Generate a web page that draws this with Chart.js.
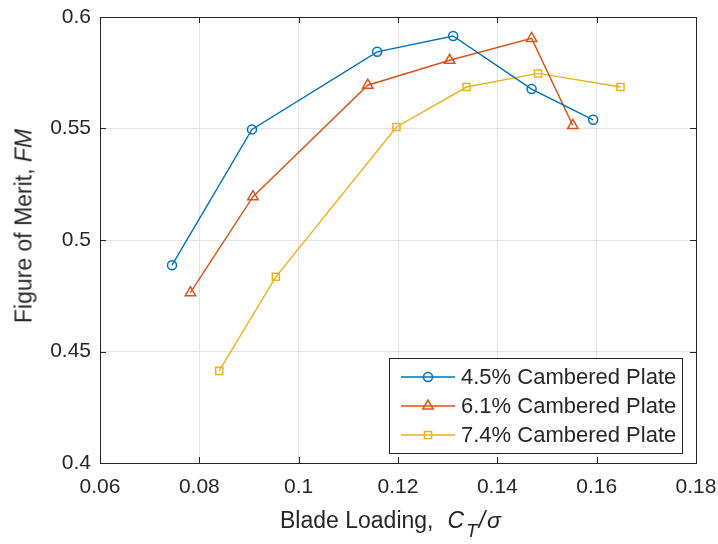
<!DOCTYPE html>
<html><head><meta charset="utf-8">
<script src="https://cdn.jsdelivr.net/npm/chart.js@4/dist/chart.umd.min.js"></script>
<style>
html,body{margin:0;padding:0;background:#fff;}
#wrap{position:relative;width:718px;height:544px;overflow:hidden;}
canvas{display:block;}
.lab{position:absolute;font-family:"Liberation Sans",Arial,Helvetica,sans-serif;font-size:23px;line-height:23px;color:#262626;white-space:nowrap;}
#xlab{left:280px;top:509px;}
#xlab .m{margin-left:14px;}
#xlab sub{font-size:19px;vertical-align:-9px;line-height:0;margin-left:2px;margin-right:1px;}
#ylab{left:24px;top:226px;transform:translate(-50%,-50%) rotate(-90deg);}
</style>
</head><body>
<div id="wrap">
<canvas id="c" width="718" height="544"></canvas>
<div id="xlab" class="lab">Blade Loading,<span class="m"><i>C</i></span><sub><i>T</i></sub><i>/</i><i style="margin-left:2px">σ</i></div>
<div id="ylab" class="lab">Figure of Merit, <i>FM</i></div>
</div>
<script>
const seriesNames = ['4.5% Cambered Plate', '6.1% Cambered Plate', '7.4% Cambered Plate'];
const ct45 = [0.0745, 0.0906, 0.1158, 0.1311, 0.1469, 0.1593];
const fm45 = [0.4887, 0.5496, 0.5844, 0.5915, 0.5677, 0.5539];
const ct61 = [0.0782, 0.0908, 0.1139, 0.1304, 0.1469, 0.1552];
const fm61 = [0.4764, 0.5194, 0.5694, 0.5806, 0.5904, 0.5514];
const ct74 = [0.0840, 0.0954, 0.1197, 0.1338, 0.1482, 0.1648];
const fm74 = [0.4413, 0.4835, 0.5507, 0.5686, 0.5747, 0.5686];
const xTicks = [0.06, 0.08, 0.10, 0.12, 0.14, 0.16, 0.18];
const xTickLabels = ['0.06', '0.08', '0.1', '0.12', '0.14', '0.16', '0.18'];
const yTicks = [0.40, 0.45, 0.50, 0.55, 0.60];
const yTickLabels = ['0.4', '0.45', '0.5', '0.55', '0.6'];

const FONT = '"Liberation Sans", Arial, Helvetica, sans-serif';
const colors = ['#0072BD', '#D95319', '#EDB120'];
const styles = ['circle', 'triangle', 'rect'];
const radii = [4.5, 6, 5];

function pts(xs, ys) { return xs.map((x, i) => ({x: x, y: ys[i]})); }
const raw = [[ct45, fm45], [ct61, fm61], [ct74, fm74]];
const datasets = raw.map((d, i) => ({
  label: seriesNames[i],
  data: pts(d[0], d[1]),
  showLine: true,
  borderColor: colors[i],
  backgroundColor: 'rgba(0,0,0,0)',
  borderWidth: 1.4,
  pointStyle: styles[i],
  pointRadius: radii[i],
  pointBorderWidth: 1.5,
  pointBorderColor: colors[i],
  pointBackgroundColor: 'rgba(0,0,0,0)',
  tension: 0
}));

const boxPlugin = {
  id: 'boxPlugin',
  afterDraw(chart) {
    const ctx = chart.ctx;
    const a = chart.chartArea;
    const xs = chart.scales.x, ys = chart.scales.y;
    ctx.save();
    ctx.strokeStyle = '#262626';
    ctx.lineWidth = 1;
    ctx.beginPath();
    ctx.rect(Math.round(a.left) + 0.5, Math.round(a.top) + 0.5, Math.round(a.right - a.left), Math.round(a.bottom - a.top));
    ctx.stroke();
    const tl = 6;
    ctx.beginPath();
    xTicks.forEach(v => {
      const px = Math.round(xs.getPixelForValue(v)) + 0.5;
      ctx.moveTo(px, a.bottom); ctx.lineTo(px, a.bottom - tl);
      ctx.moveTo(px, a.top); ctx.lineTo(px, a.top + tl);
    });
    yTicks.forEach(v => {
      const py = Math.round(ys.getPixelForValue(v)) + 0.5;
      ctx.moveTo(a.left, py); ctx.lineTo(a.left + tl, py);
      ctx.moveTo(a.right, py); ctx.lineTo(a.right - tl, py);
    });
    ctx.stroke();

    // legend
    const lw = 293, lh = 95;
    const lx = Math.round(a.right - 14 - lw), ly = Math.round(a.bottom - 10 - lh);
    ctx.fillStyle = '#ffffff';
    ctx.fillRect(lx, ly, lw, lh);
    ctx.strokeStyle = '#262626';
    ctx.lineWidth = 1;
    ctx.strokeRect(lx + 0.5, ly + 0.5, lw, lh);
    ctx.font = '22px ' + FONT;
    ctx.textBaseline = 'middle';
    ctx.textAlign = 'left';
    seriesNames.forEach((name, i) => {
      const cy = ly + 19 + i * 29;
      ctx.strokeStyle = colors[i];
      ctx.lineWidth = 1.5;
      ctx.beginPath();
      ctx.moveTo(lx + 12, cy); ctx.lineTo(lx + 66, cy);
      ctx.stroke();
      ctx.fillStyle = 'rgba(0,0,0,0)';
      Chart.helpers.drawPoint(ctx, {pointStyle: styles[i], radius: radii[i], rotation: 0, borderWidth: 1.5}, lx + 39, cy);
      ctx.fillStyle = '#262626';
      ctx.fillText(name, lx + 72, cy + 1);
    });
    ctx.restore();
  }
};

new Chart(document.getElementById('c'), {
  type: 'scatter',
  data: { datasets: datasets },
  options: {
    responsive: false,
    animation: false,
    devicePixelRatio: 1,
    layout: { padding: { left: 0, right: 22, top: 17, bottom: 0 } },
    plugins: { legend: { display: false }, tooltip: { enabled: false } },
    scales: {
      x: {
        type: 'linear', min: 0.06, max: 0.18,
        afterBuildTicks: s => { s.ticks = xTicks.map(v => ({value: v})); },
        afterFit: s => { s.height = 81; s.paddingLeft = 0; s.paddingRight = 0; },
        grid: { color: '#e3e3e3', lineWidth: 1, drawTicks: false },
        border: { display: true, color: '#262626', width: 1 },
        ticks: {
          padding: 12, color: '#262626', font: { family: FONT, size: 21 },
          maxRotation: 0, autoSkip: false,
          callback: (v, i) => xTickLabels[i]
        }
      },
      y: {
        type: 'linear', min: 0.4, max: 0.6,
        afterBuildTicks: s => { s.ticks = yTicks.map(v => ({value: v})); },
        afterFit: s => { s.width = 100; s.paddingTop = 0; s.paddingBottom = 0; },
        grid: { color: '#e3e3e3', lineWidth: 1, drawTicks: false },
        border: { display: true, color: '#262626', width: 1 },
        ticks: {
          padding: 9, color: '#262626', font: { family: FONT, size: 21 },
          autoSkip: false,
          callback: (v, i) => yTickLabels[i]
        }
      }
    }
  },
  plugins: [boxPlugin]
});
</script>
</body></html>
